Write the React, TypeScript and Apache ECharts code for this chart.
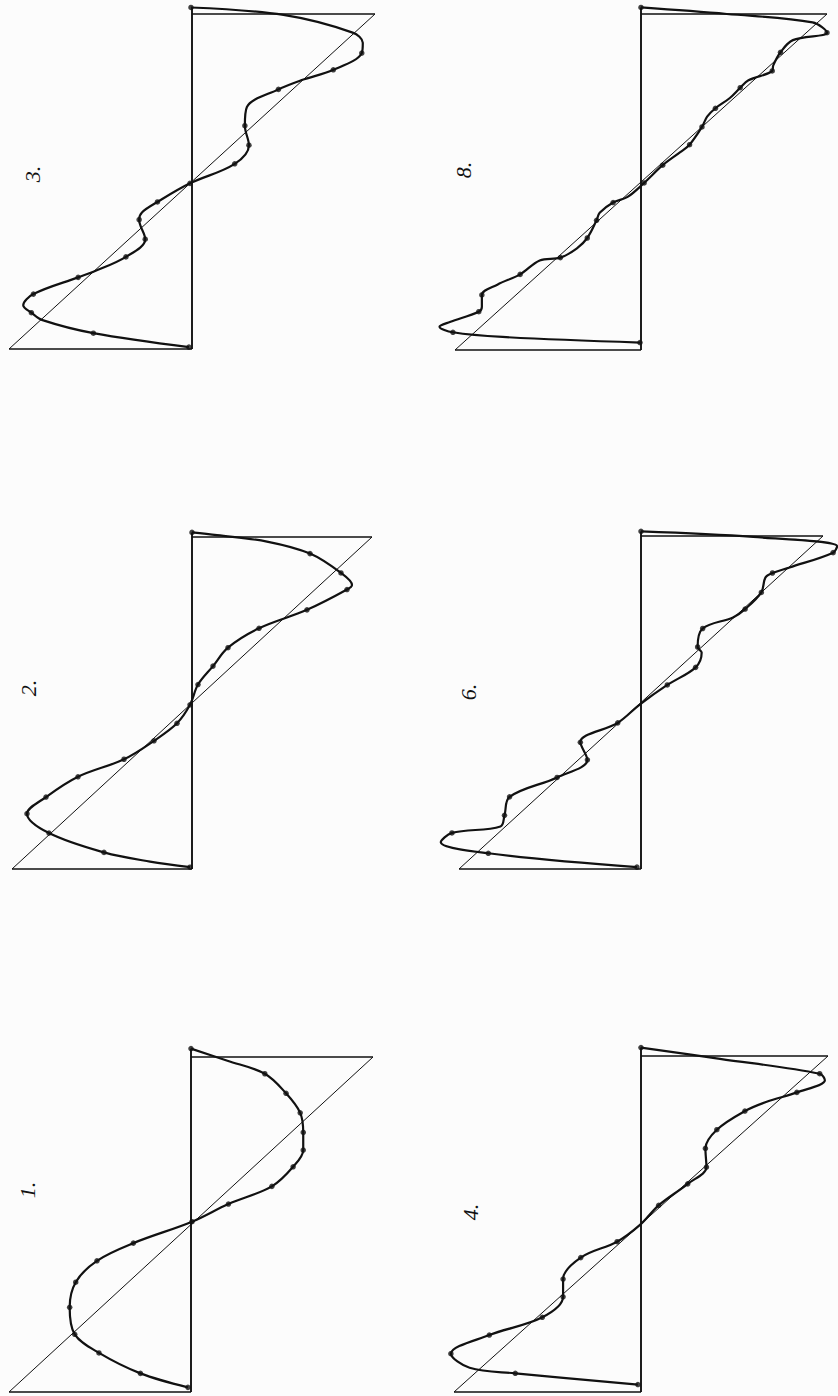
import { useEffect, useRef } from "react";
import * as echarts from "echarts";

// Partial sums of the sawtooth's Fourier series, drawn on their side.
// Each point: [sum value, angle in degrees, 1 if the point is a computed (marked) one]
const curve1 = [
  [0, 189, 1], [36, 176, 0], [73, 162, 1], [94, 141, 1], [108, 120, 1], [111, 99, 1],
  [111, 80, 1], [101, 62, 1], [80, 41, 1], [37, 22, 1], [1, 3, 1], [-57, -20, 1],
  [-93, -39, 1], [-114, -62, 1], [-120, -89, 1], [-115, -118, 1], [-91, -138, 1],
  [-50, -160, 1], [-3, -175, 1],
];
const curve2 = [
  [0, 185, 1], [25, 182, 0], [75, 175, 0], [118, 162, 1], [149, 141, 1], [160, 128, 0],
  [155, 123, 1], [115, 101, 1], [67, 81, 1], [36, 60, 1], [21, 40, 1], [6, 20, 1],
  [-2, -2, 1], [-15, -22, 1], [-38, -41, 1], [-68, -61, 1], [-114, -80, 1], [-146, -102, 1],
  [-165, -120, 1], [-143, -141, 1], [-88, -162, 1], [-42, -172, 0], [-2, -178, 1],
];
const curve3 = [
  [-1, 187, 1], [90, 179, 0], [158, 160, 0], [168, 149, 0], [167, 138, 1], [139, 120, 1],
  [108, 109, 0], [85, 99, 1], [54, 80, 0], [52, 60, 1], [56, 39, 1], [42, 19, 1],
  [-2, -2, 1], [-34, -22, 1], [-49, -33, 0], [-52, -41, 1], [-46, -62, 1], [-65, -81, 1],
  [-97, -97, 0], [-112, -103, 1], [-156, -121, 1], [-166, -133, 0], [-158, -141, 1],
  [-147, -149, 0], [-97, -163, 1], [-3, -178, 1],
];
const curve4 = [
  [0, 189, 1], [76, 177, 0], [172, 161, 1], [177, 154, 0], [150, 141, 1], [121, 131, 0],
  [100, 121, 1], [73, 101, 1], [62, 81, 1], [63, 61, 1], [45, 43, 1], [17, 20, 1],
  [-1, -1, 0], [-23, -19, 1], [-58, -36, 1], [-75, -59, 1], [-75, -78, 1], [-95, -100, 1],
  [-146, -119, 1], [-183, -139, 1], [-165, -154, 0], [-121, -160, 1], [-3, -172, 1],
];
const curve6 = [
  [0, 185, 1], [111, 179, 0], [194, 169, 0], [190, 162, 1], [147, 146, 0], [130, 140, 1],
  [123, 135, 0], [119, 119, 1], [103, 101, 1], [91, 92, 0], [61, 80, 1], [56, 60, 1],
  [60, 54, 0], [54, 38, 1], [26, 19, 1], [-1, -2, 0], [-23, -22, 1], [-60, -43, 1],
  [-53, -62, 1], [-83, -81, 1], [-130, -102, 1], [-135, -122, 1], [-139, -134, 0],
  [-187, -141, 1], [-198, -151, 0], [-151, -163, 1], [-4, -178, 1],
];
const curve8 = [
  [0, 187, 1], [83, 180, 0], [166, 171, 0], [180, 160, 1], [147, 152, 0], [135, 139, 1],
  [128, 125, 0], [127, 119, 1], [104, 109, 0], [96, 101, 1], [86, 90, 0], [72, 79, 1],
  [64, 70, 0], [59, 59, 1], [47, 40, 1], [38, 32, 0], [21, 18, 1], [3, -1, 1],
  [-13, -16, 0], [-27, -22, 1], [-40, -33, 0], [-43, -41, 1], [-52, -60, 1], [-62, -71, 0],
  [-78, -81, 1], [-98, -84, 0], [-117, -99, 1], [-139, -110, 0], [-154, -121, 1],
  [-154, -134, 0], [-157, -139, 1], [-185, -150, 0], [-195, -155, 0], [-182, -161, 1],
  [-134, -166, 0], [-1, -172, 1],
];

// The sawtooth itself runs from -180 to 180 over one period.
const sawtooth = [-180, 180];
const panelNames = ["1.", "2.", "3.", "4.", "6.", "8."];
const curves = [curve1, curve2, curve3, curve4, curve6, curve8];

// Where each sawtooth frame sits on the page, in pixels.
const PAGE_W = 838;
const PAGE_H = 1396;
const panels = [
  { left: 9, top: 1057, width: 364, height: 335, label: [27, 1190] },
  { left: 12, top: 537, width: 360, height: 332, label: [28, 688] },
  { left: 9, top: 14, width: 366, height: 335, label: [32, 174] },
  { left: 454, top: 1056, width: 374, height: 336, label: [470, 1212] },
  { left: 459, top: 536, width: 364, height: 333, label: [468, 692] },
  { left: 455, top: 14, width: 372, height: 336, label: [463, 170] },
];

// Up to this much extra axis room around each frame, so overshooting curves
// stay inside their axes, limited by the space left on the page.
const MAX_PAD = 40;

const INK = "#111";

function segment(i: number, data: number[][], width: number) {
  return {
    type: "line",
    xAxisIndex: i,
    yAxisIndex: i,
    data,
    symbol: "none",
    clip: false,
    silent: true,
    lineStyle: { color: INK, width },
  };
}

export default function App() {
  const ref = useRef<HTMLDivElement>(null);

  useEffect(() => {
    if (!ref.current) return;
    const chart = echarts.init(ref.current, undefined, { renderer: "svg" });
    const [lo, hi] = sawtooth;
    const span = hi - lo;

    const boxes = panels.map((p) => {
      const kx = p.width / span;
      const ky = p.height / span;
      const padL = Math.min(MAX_PAD, Math.floor(p.left / kx));
      const padR = Math.min(MAX_PAD, Math.floor((PAGE_W - p.left - p.width) / kx));
      const padT = Math.min(MAX_PAD, Math.floor(p.top / ky));
      const padB = Math.min(MAX_PAD, Math.floor((PAGE_H - p.top - p.height) / ky));
      return {
        grid: {
          left: p.left - padL * kx,
          top: p.top - padT * ky,
          width: p.width + (padL + padR) * kx,
          height: p.height + (padT + padB) * ky,
        },
        x: [lo - padL, hi + padR],
        y: [lo - padB, hi + padT],
      };
    });

    const series: any[] = [];
    curves.forEach((c, i) => {
      const tTop = c[0][1];
      series.push(segment(i, [[0, lo], [0, tTop]], 1.9));
      series.push(segment(i, [[lo, lo], [0, lo]], 1.7));
      series.push(segment(i, [[0, hi], [hi, hi]], 1.7));
      series.push(segment(i, [[lo, lo], [hi, hi]], 1.0));
      series.push({
        type: "line",
        xAxisIndex: i,
        yAxisIndex: i,
        data: c.map((p) => [p[0], p[1]]),
        smooth: 0.35,
        symbol: "none",
        clip: false,
        silent: true,
        lineStyle: { color: INK, width: 2.2 },
      });
      series.push({
        type: "scatter",
        xAxisIndex: i,
        yAxisIndex: i,
        data: c.filter((p) => p[2]).map((p) => [p[0], p[1]]),
        symbol: "circle",
        symbolSize: 5.5,
        clip: false,
        silent: true,
        itemStyle: { color: INK },
      });
    });

    chart.setOption({
      animation: false,
      backgroundColor: "#fcfcfc",
      grid: boxes.map((b) => b.grid),
      xAxis: boxes.map((b, i) => ({
        type: "value", gridIndex: i, min: b.x[0], max: b.x[1], show: false,
      })),
      yAxis: boxes.map((b, i) => ({
        type: "value", gridIndex: i, min: b.y[0], max: b.y[1], show: false,
      })),
      graphic: panels.map((p, i) => ({
        type: "text",
        x: p.label[0],
        y: p.label[1],
        rotation: Math.PI / 2,
        silent: true,
        style: {
          text: panelNames[i],
          font: "italic 22px 'Liberation Serif', serif",
          fill: INK,
          textAlign: "center",
          textVerticalAlign: "middle",
          align: "center",
          verticalAlign: "middle",
        },
      })),
      series,
    });

    return () => chart.dispose();
  }, []);

  return (
    <div
      ref={ref}
      style={{ position: "absolute", left: 0, top: 0, width: PAGE_W, height: PAGE_H }}
    />
  );
}
